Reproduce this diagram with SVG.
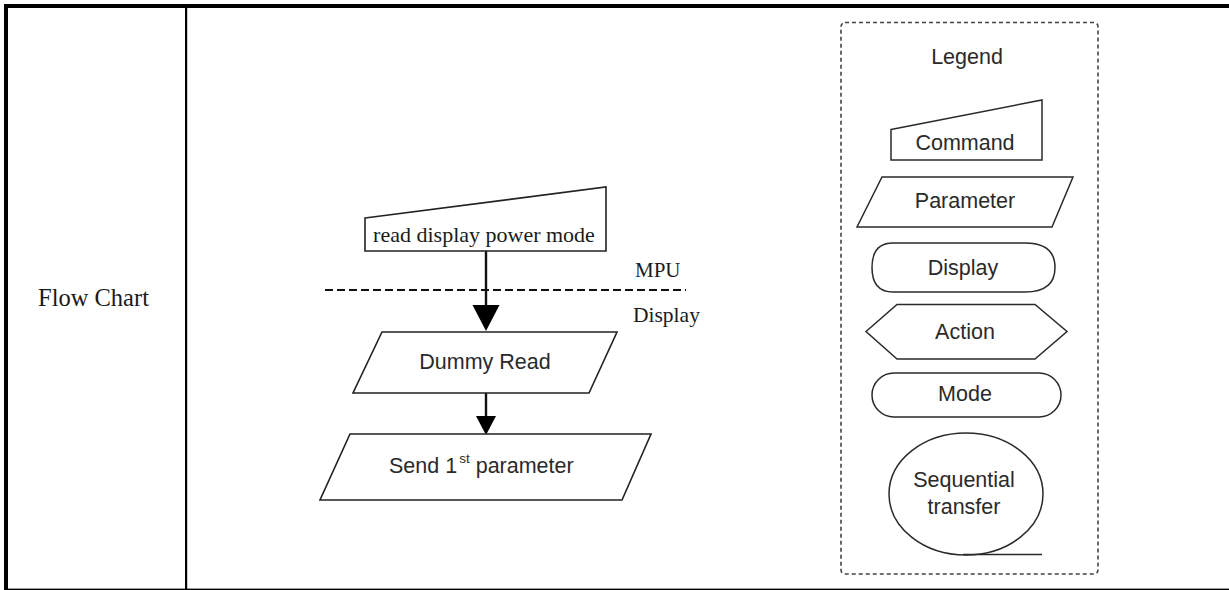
<svg xmlns="http://www.w3.org/2000/svg" width="1229" height="590" viewBox="0 0 1229 590">
<style>
.serif{font-family:"Liberation Serif","Times New Roman",serif;fill:#1a1a1a}
.sans{font-family:"Liberation Sans",Arial,sans-serif;fill:#2a2a2a;font-size:21.5px;text-anchor:middle}
.shape{fill:#fff;stroke:#222;stroke-width:1.6}
.lg{fill:#fff;stroke:#2a2a2a;stroke-width:1.5}
.conn{stroke:#111;stroke-width:2.4;fill:none}
.head{fill:#000;stroke:none}
</style>
<rect width="1229" height="590" fill="#fff"/>
<g id="table">
<rect x="4" y="4" width="1225" height="4" fill="#000"/>
<rect x="4" y="4" width="4" height="586" fill="#000"/>
<rect x="185" y="8" width="2.2" height="581" fill="#000"/>
<rect x="8" y="588.6" width="1221" height="1.4" fill="#000"/>
</g>
<text id="label-flowchart" class="serif" x="38" y="306" font-size="24.5">Flow Chart</text>
<g id="connectors">
<line class="conn" x1="486" y1="251" x2="486" y2="306"/>
<polygon class="head" points="472.5,305 499.5,305 486,331"/>
<line class="conn" x1="486" y1="393" x2="486" y2="417"/>
<polygon class="head" points="476,416 496,416 486,435"/>
</g>
<g id="boundary">
<line x1="325" y1="290" x2="686" y2="290" stroke="#111" stroke-width="2" stroke-dasharray="8,4"/>
<text class="serif" x="635" y="277" font-size="21">MPU</text>
<text class="serif" x="633" y="322" font-size="21.5">Display</text>
</g>
<g id="node-read-cmd">
<polygon class="shape" points="365,218 606,187 606,251 365,251"/>
<text class="serif" x="484" y="242" font-size="22" text-anchor="middle">read display power mode</text>
</g>
<g id="node-dummy-read">
<polygon class="shape" points="382,332 617,332 589,393 353,393"/>
<text class="sans" x="485" y="369">Dummy Read</text>
</g>
<g id="node-send-param">
<polygon class="shape" points="350,434 651,434 622,500 320,500"/>
<text class="sans" x="389" y="473" style="text-anchor:start">Send 1<tspan font-size="13.5" dy="-10" dx="2">st</tspan><tspan dy="10" dx="6">parameter</tspan></text>
</g>
<g id="legend">
<rect x="841" y="22.5" width="257" height="551.5" rx="4" fill="none" stroke="#444" stroke-width="1.6" stroke-dasharray="4,3"/>
<text class="sans" x="967" y="64">Legend</text>
<g id="legend-command">
<polygon class="lg" points="891,129.5 1042,100 1042,160 891,160"/>
<text class="sans" x="965" y="150">Command</text>
</g>
<g id="legend-parameter">
<polygon class="lg" points="882,177 1073,177 1052,227 857,227"/>
<text class="sans" x="965" y="208">Parameter</text>
</g>
<g id="legend-display">
<path class="lg" d="M893,243 L1025,243 Q1055,243 1055,267.5 Q1055,292 1025,292 L893,292 Q872,292 872,267.5 Q872,243 893,243 Z"/>
<text class="sans" x="963" y="275">Display</text>
</g>
<g id="legend-action">
<polygon class="lg" points="866,331.5 897,304.5 1035,304.5 1067,331.5 1035,359 897,359"/>
<text class="sans" x="965" y="339">Action</text>
</g>
<g id="legend-mode">
<rect class="lg" x="872" y="373" width="189" height="44" rx="22"/>
<text class="sans" x="965" y="401">Mode</text>
</g>
<g id="legend-sequential">
<ellipse class="lg" cx="966" cy="494" rx="77" ry="61"/>
<line x1="963" y1="554.5" x2="1042" y2="554.5" stroke="#2a2a2a" stroke-width="1.6"/>
<text class="sans" x="964" y="487">Sequential</text>
<text class="sans" x="964" y="514">transfer</text>
</g>
</g>
</svg>
